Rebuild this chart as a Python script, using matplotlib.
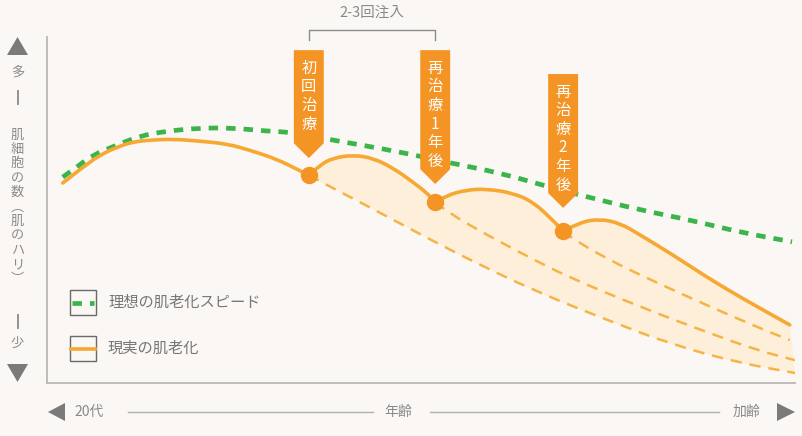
import numpy as np
import matplotlib.pyplot as plt
from matplotlib.patches import Polygon, Rectangle, PathPatch
from matplotlib.path import Path

plt.rcParams['font.family'] = ['Noto Sans CJK JP', 'DejaVu Sans']

# ---- datos (x: 年齢 0-100, y: 肌細胞の数 0-100) ----
# 理想の肌老化スピード
ideal_x = [2.1, 4.0, 6.1, 9.4, 12.4, 16.0, 20.5, 24.9, 29.4, 32.5, 38.2, 47.2,
           53.9, 60.6, 67.2, 71.3, 79.3, 86.0, 92.6, 99.6]
ideal_y = [59.5, 62.4, 65.9, 68.8, 71.4, 72.8, 73.7, 73.7, 72.8, 72.5, 70.2, 66.8,
           63.6, 60.7, 56.6, 54.3, 50.0, 47.1, 43.6, 40.8]

# 現実の肌老化
real_x = [2.1, 4.8, 7.1, 9.4, 11.5, 13.8, 16.8, 20.5, 24.1, 27.1, 30.7, 33.4,
          35.0, 36.5, 38.2, 40.9, 43.6, 46.3, 48.9, 50.8, 51.9, 53.5, 56.1, 58.8,
          62.3, 65.0, 67.6, 69.0, 71.3, 73.9, 76.6, 79.3, 83.7, 88.2, 92.6, 99.3]
real_y = [57.8, 62.4, 65.9, 68.2, 69.7, 70.2, 70.5, 69.9, 69.1, 67.3, 64.7, 61.8,
          60.1, 63.0, 65.0, 65.9, 65.0, 62.1, 58.1, 54.9, 52.3, 54.3, 55.8, 56.1,
          54.9, 52.3, 47.1, 43.9, 46.5, 47.4, 46.2, 42.8, 37.0, 30.6, 24.9, 16.8]

# 治療しなかった場合の推移
skip1_x = [35.0, 36.9, 42.8, 50.3, 57.9, 65.9, 74.9, 83.7, 92.6, 100.0]
skip1_y = [60.1, 57.8, 51.2, 42.5, 34.1, 26.0, 18.2, 11.0, 5.8, 2.9]
skip2_x = [51.9, 53.5, 58.8, 65.9, 70.3, 79.3, 88.2, 94.9, 100.0]
skip2_y = [52.3, 49.4, 42.8, 34.7, 30.1, 22.0, 14.7, 9.5, 6.6]
skip3_x = [69.0, 69.9, 74.9, 81.6, 88.2, 94.9, 99.3]
skip3_y = [43.9, 42.2, 35.8, 28.9, 22.5, 16.2, 12.4]

# 治療のタイミング
treat_x = [35.0, 51.9, 69.0]
treat_y = [60.1, 52.3, 43.9]
treat_labels = ["初回治療", "再治療1年後", "再治療2年後"]
banner_top = [96.2, 96.2, 89.3]
banner_tip = [65.0, 57.5, 50.6]

bg = '#faf7f4'
orange = '#f6a833'
orange_dark = '#f39424'
orange_dash = '#f5b446'
green = '#3bb54a'
gray = '#8a8a8a'


def curva(xs, ys):
    # path suave: los puntos intermedios hacen de control (bezier cuadrática)
    p = list(zip(xs, ys))
    verts = [p[0]]
    codes = [Path.MOVETO]
    for i in range(1, len(p) - 1):
        mid = ((p[i][0] + p[i + 1][0]) / 2, (p[i][1] + p[i + 1][1]) / 2)
        verts += [p[i], mid]
        codes += [Path.CURVE3, Path.CURVE3]
    verts.append(p[-1])
    codes.append(Path.LINETO)
    return Path(verts, codes)


fig = plt.figure(figsize=(8.02, 4.36), dpi=100, facecolor=bg)
ax = fig.add_axes([47 / 802, 53 / 436, 748 / 802, 346 / 436])
ax.set_facecolor(bg)
ax.set_xlim(0, 100)
ax.set_ylim(0, 100)
ax.set_xticks([])
ax.set_yticks([])
for s in ['top', 'right']:
    ax.spines[s].set_visible(False)
for s in ['left', 'bottom']:
    ax.spines[s].set_color('#b8b8b8')
    ax.spines[s].set_linewidth(1.3)

# relleno entre la curva real y la proyección sin tratamiento
rx = np.array(real_x)
ry = np.array(real_y)
m = rx >= treat_x[0]
poly_x = np.concatenate([rx[m], skip1_x[::-1]])
poly_y = np.concatenate([ry[m], skip1_y[::-1]])
ax.fill(poly_x, poly_y, color='#fdefd9', lw=0, zorder=1)

for sx, sy in [(skip1_x, skip1_y), (skip2_x, skip2_y), (skip3_x, skip3_y)]:
    ax.add_patch(PathPatch(curva(sx, sy), fill=False, ec=orange_dash, lw=1.8,
                           ls=(0, (4.5, 3.2)), zorder=2))

ax.add_patch(PathPatch(curva(ideal_x, ideal_y), fill=False, ec=green, lw=3.4,
                       ls=(0, (2.0, 1.7)), zorder=3))

# la curva real se corta en cada tratamiento (picos)
cortes = [0] + [real_x.index(t) for t in treat_x] + [len(real_x) - 1]
for a, b in zip(cortes[:-1], cortes[1:]):
    ax.add_patch(PathPatch(curva(real_x[a:b + 1], real_y[a:b + 1]), fill=False,
                           ec=orange, lw=2.6, capstyle='round', zorder=4))
ax.plot(treat_x, treat_y, 'o', color=orange_dark, ms=11.5, zorder=5)

# banderas
hw = 2.0
head = 4.3
for x, top, tip, lab in zip(treat_x, banner_top, banner_tip, treat_labels):
    verts = [(x - hw, top), (x + hw, top), (x + hw, tip + head), (x, tip),
             (x - hw, tip + head)]
    ax.add_patch(Polygon(verts, closed=True, color=orange_dark, lw=0,
                         zorder=6, clip_on=False))
    for i, ch in enumerate(lab):
        ax.annotate(ch, xy=(x, top), xytext=(0, -(13.0 + i * 13.4)),
                    textcoords='offset points', ha='center', va='center',
                    color='white', fontsize=11, zorder=7, annotation_clip=False)

# corchete 2-3回注入
ax.plot([treat_x[0], treat_x[0], treat_x[1], treat_x[1]], [99.1, 102, 102, 99.1],
        color='#8c8c8c', lw=1.0, clip_on=False)
ax.text((treat_x[0] + treat_x[1]) / 2, 106.9, "2-3回注入", ha='center', va='center',
        color=gray, fontsize=10.5)

# ---- decoraciones en coordenadas de pixel ----
ov = fig.add_axes([0, 0, 1, 1], zorder=10)
ov.set_xlim(0, 802)
ov.set_ylim(436, 0)
ov.axis('off')
ov.patch.set_visible(False)
tri = '#7a7a7a'

# eje vertical
ov.add_patch(Polygon([(7, 55), (28, 55), (17.5, 37)], color=tri, lw=0))
ov.add_patch(Polygon([(7, 364), (28, 364), (17.5, 382)], color=tri, lw=0))
ov.text(17.5, 72, "多", ha='center', va='center', color=gray, fontsize=9.5)
ov.text(17.5, 343, "少", ha='center', va='center', color=gray, fontsize=9.5)
ov.plot([17.5, 17.5], [91, 104], color=gray, lw=1.3)
ov.plot([17.5, 17.5], [315, 328], color=gray, lw=1.3)
ylab = "肌細胞の数︵肌のハリ︶"
for i, ch in enumerate(ylab):
    ov.text(17.5, 135 + i * 14.4, ch, ha='center', va='center', color=gray, fontsize=9.5)

# eje horizontal
ov.add_patch(Polygon([(65, 403), (65, 421), (48, 412)], color=tri, lw=0))
ov.add_patch(Polygon([(777, 403), (777, 421), (795, 412)], color=tri, lw=0))
ov.text(74, 412, "20代", ha='left', va='center', color=gray, fontsize=10)
ov.text(398, 412, "年齢", ha='center', va='center', color=gray, fontsize=10)
ov.text(760, 412, "加齢", ha='right', va='center', color=gray, fontsize=10)
ov.plot([128, 373], [412, 412], color='#b0b0b0', lw=1.0)
ov.plot([430, 719], [412, 412], color='#b0b0b0', lw=1.0)

# leyenda
ov.add_patch(Rectangle((70, 290), 26, 25, fill=False, ec='#6a6a6a', lw=1.0))
ov.add_patch(Rectangle((70, 336), 26, 25, fill=False, ec='#6a6a6a', lw=1.0))
ov.plot([72, 94], [302.5, 302.5], color=green, lw=3.4, dashes=(2.0, 1.7))
ov.plot([71, 95], [348.5, 348.5], color=orange, lw=2.6)
ov.text(108, 302.5, "理想の肌老化スピード", ha='left', va='center', color='#777777', fontsize=11)
ov.text(108, 348.5, "現実の肌老化", ha='left', va='center', color='#777777', fontsize=11)

fig.savefig('out.png', dpi=100, facecolor=bg)
